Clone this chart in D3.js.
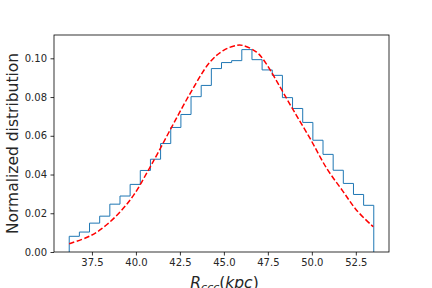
<!DOCTYPE html>
<html>
<head>
<meta charset="utf-8">
<script src="https://cdn.jsdelivr.net/npm/d3@7"></script>
<style>
  body { margin: 0; background: #fff; }
  text { font-family: "DejaVu Sans", sans-serif; fill: #262626; }
</style>
</head>
<body>
<div id="graphique"></div>
<script>
// histogram: 30 bins between binLo and binHi (normalized heights)
const binLo = 36.21, binHi = 53.52;
const binHeights = [
    0.0081, 0.0103, 0.0149, 0.0185, 0.0247, 0.0289, 0.0349, 0.0421, 0.0479, 0.0560,
    0.0643, 0.0710, 0.0802, 0.0860, 0.0947, 0.0978, 0.0988, 0.1045, 0.0993, 0.0940,
    0.0912, 0.0797, 0.0741, 0.0669, 0.0577, 0.0504, 0.0422, 0.0354, 0.0297, 0.0241
];

// fitted curve, points
const fitX = [36.21, 37.23, 37.80, 38.37, 39.13, 39.89, 40.76, 41.20, 42.04, 43.08,
              44.21, 44.96, 45.72, 46.10, 46.86, 47.34, 48.19, 48.95, 49.90, 50.85,
              51.78, 52.54, 53.49];
const fitY = [0.0043, 0.0076, 0.0104, 0.0143, 0.0210, 0.0296, 0.0431, 0.0503, 0.0646, 0.0818,
              0.0981, 0.1040, 0.1067, 0.1066, 0.1032, 0.0981, 0.0852, 0.0732, 0.0586, 0.0431,
              0.0312, 0.0216, 0.0130];

const xTicks = [37.5, 40.0, 42.5, 45.0, 47.5, 50.0, 52.5];
const yTicks = [0.00, 0.02, 0.04, 0.06, 0.08, 0.10];

function AffichageGraph() {
    const width = 432, height = 288;
    const margin = { top: 35, right: 43, bottom: 36, left: 54 };
    const innerWidth = width - margin.left - margin.right;
    const innerHeight = height - margin.top - margin.bottom;

    const svg = d3.select("#graphique").append("svg")
        .attr("width", width)
        .attr("height", height);

    const g = svg.append("g")
        .attr("transform", `translate(${margin.left},${margin.top})`);

    // marges de 5% comme matplotlib
    const pad = (binHi - binLo) * 0.05;
    const xScale = d3.scaleLinear()
        .domain([binLo - pad, binHi + pad])
        .range([0, innerWidth]);

    const yMax = Math.max(d3.max(binHeights), d3.max(fitY)) * 1.05;
    const yScale = d3.scaleLinear()
        .domain([0, yMax])
        .range([innerHeight, 0]);

    // contour du histogramme (step)
    const binW = (binHi - binLo) / binHeights.length;
    const stepPts = [[binLo, 0]];
    binHeights.forEach((h, i) => {
        stepPts.push([binLo + i * binW, h]);
        stepPts.push([binLo + (i + 1) * binW, h]);
    });
    stepPts.push([binHi, 0]);

    g.append("path")
        .datum(stepPts)
        .attr("d", d3.line().x(d => xScale(d[0])).y(d => yScale(d[1])))
        .attr("fill", "none")
        .attr("stroke", "#1f77b4")
        .attr("stroke-width", 1)
        .attr("stroke-linejoin", "miter");

    // courbe rouge en tirets
    const fitData = fitX.map((x, i) => [x, fitY[i]]);
    g.append("path")
        .datum(fitData)
        .attr("d", d3.line()
            .x(d => xScale(d[0]))
            .y(d => yScale(d[1]))
            .curve(d3.curveCatmullRom.alpha(0.5)))
        .attr("fill", "none")
        .attr("stroke", "#ff0000")
        .attr("stroke-width", 1.5)
        .attr("stroke-dasharray", "5.5,2.4");

    // axes
    const xAxis = g.append("g")
        .attr("transform", `translate(0,${innerHeight})`)
        .call(d3.axisBottom(xScale).tickValues(xTicks).tickFormat(d3.format(".1f"))
            .tickSizeInner(3.5).tickSizeOuter(0).tickPadding(3.5));

    const yAxis = g.append("g")
        .call(d3.axisLeft(yScale).tickValues(yTicks).tickFormat(d3.format(".2f"))
            .tickSizeInner(3.5).tickSizeOuter(0).tickPadding(3.5));

    [xAxis, yAxis].forEach(ax => {
        ax.select(".domain").remove();
        ax.selectAll(".tick line").attr("stroke", "#000").attr("stroke-width", 0.8);
        ax.selectAll(".tick text")
            .style("font-family", "DejaVu Sans")
            .style("font-size", "10px")
            .attr("fill", "#262626");
    });

    // cadre
    g.append("rect")
        .attr("x", 0)
        .attr("y", 0)
        .attr("width", innerWidth)
        .attr("height", innerHeight)
        .attr("fill", "none")
        .attr("stroke", "#000")
        .attr("stroke-width", 0.8);

    // titre axe y
    svg.append("text")
        .attr("transform", `translate(18,${margin.top + innerHeight / 2}) rotate(-90)`)
        .attr("text-anchor", "middle")
        .style("font-size", "15.5px")
        .text("Normalized distribution");

    // titre axe x : R_ccc(kpc)
    const xl = svg.append("text")
        .attr("x", margin.left + innerWidth / 2 + 3)
        .attr("y", 288)
        .attr("text-anchor", "middle")
        .style("font-size", "15.5px");
    xl.append("tspan").style("font-style", "italic").text("R");
    xl.append("tspan").style("font-style", "italic").style("font-size", "11px")
        .attr("dy", 3).text("ccc");
    xl.append("tspan").attr("dy", -3).text("(");
    xl.append("tspan").style("font-style", "italic").text("kpc");
    xl.append("tspan").text(")");
}

AffichageGraph();
</script>
</body>
</html>
